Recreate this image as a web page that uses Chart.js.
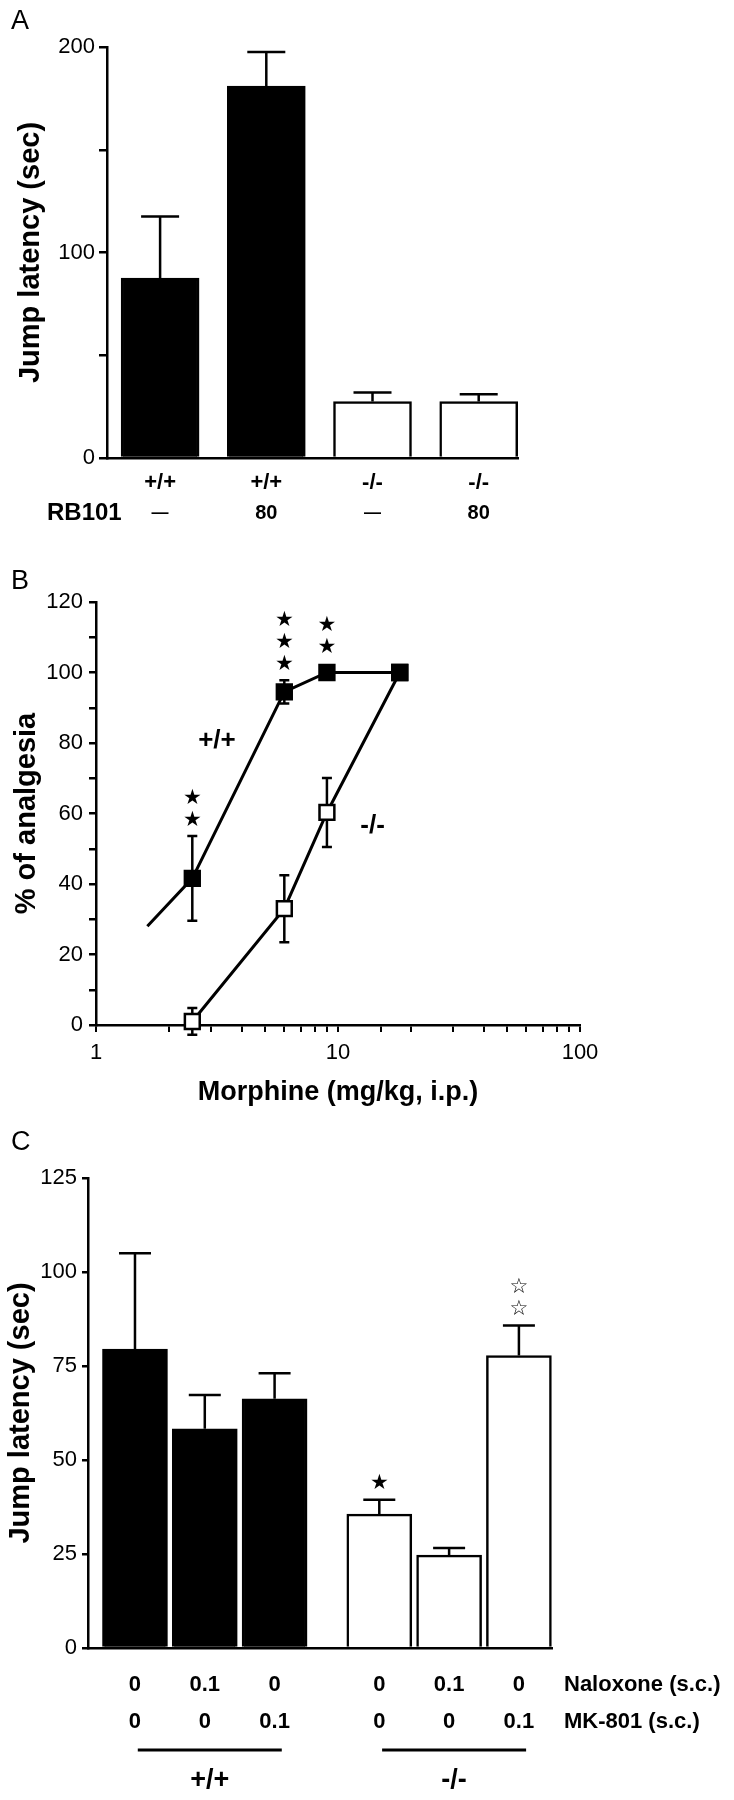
<!DOCTYPE html>
<html>
<head>
<meta charset="utf-8">
<script src="https://cdn.jsdelivr.net/npm/chart.js@4.4.1/dist/chart.umd.min.js"></script>
<style>
  html, body { margin: 0; padding: 0; background: #fff; }
  #fig { position: relative; width: 734px; height: 1800px; }
  .painel { position: absolute; left: 0; width: 734px; }
  #pa { top: 0; height: 530px; }
  #pb { top: 530px; height: 580px; }
  #pc { top: 1110px; height: 690px; }
</style>
</head>
<body>
<div id="fig">
  <div class="painel" id="pa"><canvas id="grafA"></canvas></div>
  <div class="painel" id="pb"><canvas id="grafB"></canvas></div>
  <div class="painel" id="pc"><canvas id="grafC"></canvas></div>
</div>
<script>
// Painel A - latência de salto com RB101
const genA = ['+/+', '+/+', '-/-', '-/-'];
const rbA = ['—', '80', '—', '80'];
const valsA = [87.5, 181, 27.5, 27.5];
const errA = [30, 16.6, 4.4, 3.5];

// Painel B - curva dose-resposta da morfina
const doseWT = [1.63, 2.5, 6, 9, 18];   // 1º ponto = início da reta, sem marcador
const analgWT = [28, 41.6, 94.5, 100, 100];
const errWT = [0, 12, 3.3, 0, 0];
const estrelasWT = [0, 2, 3, 2, 0];
const doseKO = [2.5, 6, 9, 18];
const analgKO = [1, 33, 60.3, 100];
const errKO = [3.8, 9.5, 9.8, 0];

// Painel C - naloxona / MK-801
const genC = ['+/+', '+/+', '+/+', '-/-', '-/-', '-/-'];
const naloxC = ['0', '0.1', '0', '0', '0.1', '0'];
const mkC = ['0', '0', '0.1', '0', '0', '0.1'];
const valsC = [79.5, 58.3, 66.3, 35.6, 24.7, 77.8];
const errC = [25.5, 9, 6.8, 3.8, 1.9, 8];
const estrelasC = [0, 0, 0, 1, 0, 2];
const glifoC = ['', '', '', '★', '', '☆'];

// posição das barras de C no eixo (grupo de 3 + intervalo)
const slotC = [0, 1, 2, 3.5, 4.5, 5.5];

const fonte = "'Liberation Sans', Arial, Helvetica, sans-serif";
const fonteEstrela = "'DejaVu Sans', sans-serif";
Chart.defaults.font.family = fonte;
Chart.defaults.color = '#000';

const corGen = g => g === '+/+' ? '#000' : '#fff';

function eixoY(max, passo, rotulo, titulo, largura, tick, pad, padTitulo) {
  return {
    min: 0, max: max,
    ticks: { stepSize: passo, font: { size: 22 }, padding: pad,
      callback: v => (v % rotulo === 0 ? v : '') },
    grid: { drawOnChartArea: false, tickLength: tick, color: '#000', lineWidth: 2.5 },
    border: { color: '#000', width: 2.5 },
    title: { display: true, text: titulo, font: { size: 29, weight: 'bold' },
      padding: { top: padTitulo, bottom: 0 } },
    afterFit: s => { s.width = largura; }
  };
}

function estrelas(ctx, px, topo, n, glifo) {
  ctx.font = `21px ${fonteEstrela}`;
  ctx.textAlign = 'center';
  ctx.textBaseline = 'middle';
  for (let k = 0; k < n; k++) ctx.fillText(glifo, px, topo - 16 - k * 22);
}

function letra(ctx, txt, y) {
  ctx.font = `27px ${fonte}`;
  ctx.textAlign = 'left';
  ctx.textBaseline = 'middle';
  ctx.fillText(txt, 11, y);
}

// Barras de erro (só para cima) nos gráficos de barras
function erroBarras(vals, errs, pos, cap) {
  return {
    id: 'erroBarras',
    afterDatasetsDraw(chart) {
      const { ctx, scales: { x, y } } = chart;
      ctx.save();
      ctx.strokeStyle = '#000';
      ctx.lineWidth = 2.5;
      vals.forEach((v, i) => {
        const px = x.getPixelForValue(pos[i]);
        const base = y.getPixelForValue(v);
        const topo = y.getPixelForValue(v + errs[i]);
        ctx.beginPath();
        ctx.moveTo(px, base);
        ctx.lineTo(px, topo);
        ctx.moveTo(px - cap / 2, topo);
        ctx.lineTo(px + cap / 2, topo);
        ctx.stroke();
      });
      ctx.restore();
    }
  };
}

// ---------- Painel A ----------
new Chart(document.getElementById('grafA'), {
  type: 'bar',
  data: {
    datasets: [{
      data: valsA.map((v, i) => ({ x: i, y: v })),
      backgroundColor: genA.map(corGen),
      borderColor: '#000',
      borderWidth: 2.5,
      barThickness: 78
    }]
  },
  options: {
    animation: false,
    responsive: true,
    maintainAspectRatio: false,
    layout: { padding: { top: 47, right: 216, left: 0, bottom: 0 } },
    plugins: { legend: { display: false }, tooltip: { enabled: false } },
    scales: {
      x: {
        type: 'linear', min: -0.5, max: 3.37, offset: false,
        ticks: { display: false },
        grid: { display: false },
        border: { color: '#000', width: 2.5 },
        afterFit: s => { s.height = 72; }
      },
      y: eixoY(200, 50, 100, 'Jump latency (sec)', 107, 8, 4, 14)
    }
  },
  plugins: [erroBarras(valsA, errA, [0, 1, 2, 3], 38), {
    id: 'textosA',
    afterDraw(chart) {
      const { ctx, chartArea, scales: { x } } = chart;
      const y0 = chartArea.bottom;
      ctx.save();
      ctx.fillStyle = '#000';
      ctx.textAlign = 'center';
      ctx.textBaseline = 'middle';
      genA.forEach((g, i) => {
        const px = x.getPixelForValue(i);
        ctx.font = `bold 22px ${fonte}`;
        ctx.fillText(g, px, y0 + 25);
        ctx.font = rbA[i] === '—' ? `bold 17px ${fonte}` : `bold 20px ${fonte}`;
        ctx.fillText(rbA[i], px, y0 + 55);
      });
      ctx.font = `bold 24px ${fonte}`;
      ctx.textAlign = 'left';
      ctx.fillText('RB101', 47, y0 + 55);
      letra(ctx, 'A', 22);
      ctx.restore();
    }
  }]
});

// ---------- Painel B ----------
const meioQuad = 10.5 * Math.SQRT1_2 + 1.25;

new Chart(document.getElementById('grafB'), {
  type: 'line',
  data: {
    datasets: [{
      label: '+/+',
      data: doseWT.map((d, i) => ({ x: d, y: analgWT[i] })),
      borderColor: '#000',
      borderWidth: 3,
      pointStyle: 'rect',
      pointRadius: doseWT.map((d, i) => (i === 0 ? 0 : 10.5)),
      pointBackgroundColor: '#000',
      pointBorderColor: '#000',
      pointBorderWidth: 2.5,
      tension: 0,
      clip: false
    }, {
      label: '-/-',
      data: doseKO.map((d, i) => ({ x: d, y: analgKO[i] })),
      borderColor: '#000',
      borderWidth: 3,
      pointStyle: 'rect',
      pointRadius: 10.5,
      pointBackgroundColor: '#fff',
      pointBorderColor: '#000',
      pointBorderWidth: 2.5,
      tension: 0,
      clip: false
    }]
  },
  options: {
    animation: false,
    responsive: true,
    maintainAspectRatio: false,
    layout: { padding: { top: 72, right: 154, left: 0, bottom: 0 } },
    plugins: { legend: { display: false }, tooltip: { enabled: false } },
    scales: {
      x: {
        type: 'logarithmic', min: 1, max: 100,
        ticks: {
          autoSkip: false, maxRotation: 0, font: { size: 22 }, padding: 8,
          callback: v => {
            const l = Math.log10(v);
            return Math.abs(l - Math.round(l)) < 1e-9 ? String(Math.round(v)) : '';
          }
        },
        grid: { drawOnChartArea: false, tickLength: 7, color: '#000', lineWidth: 2 },
        border: { color: '#000', width: 2.5 },
        title: { display: true, text: 'Morphine (mg/kg, i.p.)',
          font: { size: 27, weight: 'bold' }, padding: { top: 0, bottom: 1 } },
        afterFit: s => { s.height = 85; }
      },
      y: eixoY(120, 10, 20, '% of analgesia', 96, 7, 6, 10)
    }
  },
  plugins: [{
    id: 'erroLinhas',
    beforeDatasetsDraw(chart) {
      const { ctx, scales: { x, y } } = chart;
      ctx.save();
      ctx.strokeStyle = '#000';
      ctx.lineWidth = 2.5;
      [[doseWT, analgWT, errWT], [doseKO, analgKO, errKO]].forEach(([ds, vs, es]) => {
        ds.forEach((d, i) => {
          if (!es[i]) return;
          const px = x.getPixelForValue(d);
          const a = y.getPixelForValue(vs[i] + es[i]);
          const b = y.getPixelForValue(vs[i] - es[i]);
          ctx.beginPath();
          ctx.moveTo(px, a); ctx.lineTo(px, b);
          ctx.moveTo(px - 5, a); ctx.lineTo(px + 5, a);
          ctx.moveTo(px - 5, b); ctx.lineTo(px + 5, b);
          ctx.stroke();
        });
      });
      ctx.restore();
    },
    afterDatasetsDraw(chart) {
      const { ctx, scales: { x, y } } = chart;
      ctx.save();
      ctx.fillStyle = '#000';
      doseWT.forEach((d, i) => {
        if (!estrelasWT[i]) return;
        const topo = Math.min(y.getPixelForValue(analgWT[i] + errWT[i]),
          y.getPixelForValue(analgWT[i]) - meioQuad);
        estrelas(ctx, x.getPixelForValue(d), topo, estrelasWT[i], '★');
      });
      ctx.font = `bold 26px ${fonte}`;
      ctx.textAlign = 'center';
      ctx.textBaseline = 'middle';
      ctx.fillText('+/+', x.getPixelForValue(3.16), y.getPixelForValue(80.6));
      ctx.fillText('-/-', x.getPixelForValue(13.9), y.getPixelForValue(56.6));
      letra(ctx, 'B', 52);
      ctx.restore();
    }
  }]
});

// ---------- Painel C ----------
new Chart(document.getElementById('grafC'), {
  type: 'bar',
  data: {
    datasets: [{
      data: valsC.map((v, i) => ({ x: slotC[i], y: v })),
      backgroundColor: genC.map(corGen),
      borderColor: '#000',
      borderWidth: 2.5,
      barThickness: 65
    }]
  },
  options: {
    animation: false,
    responsive: true,
    maintainAspectRatio: false,
    layout: { padding: { top: 68, right: 182, left: 0, bottom: 0 } },
    plugins: { legend: { display: false }, tooltip: { enabled: false } },
    scales: {
      x: {
        type: 'linear', min: -0.673, max: 5.974, offset: false,
        ticks: { display: false },
        grid: { display: false },
        border: { color: '#000', width: 2.5 },
        afterFit: s => { s.height = 152; }
      },
      y: eixoY(125, 25, 25, 'Jump latency (sec)', 88, 6, 5, 4)
    }
  },
  plugins: [erroBarras(valsC, errC, slotC, 32), {
    id: 'textosC',
    afterDraw(chart) {
      const { ctx, chartArea, scales: { x, y } } = chart;
      const y0 = chartArea.bottom;
      ctx.save();
      ctx.fillStyle = '#000';
      valsC.forEach((v, i) => {
        if (estrelasC[i]) {
          estrelas(ctx, x.getPixelForValue(slotC[i]), y.getPixelForValue(v + errC[i]),
            estrelasC[i], glifoC[i]);
        }
      });
      ctx.font = `bold 22px ${fonte}`;
      ctx.textAlign = 'center';
      ctx.textBaseline = 'middle';
      slotC.forEach((s, i) => {
        const px = x.getPixelForValue(s);
        ctx.fillText(naloxC[i], px, y0 + 37);
        ctx.fillText(mkC[i], px, y0 + 74);
      });
      ctx.textAlign = 'left';
      ctx.fillText('Naloxone (s.c.)', 564, y0 + 37);
      ctx.fillText('MK-801 (s.c.)', 564, y0 + 74);
      // traços e rótulos dos grupos
      ctx.strokeStyle = '#000';
      ctx.lineWidth = 3;
      [['+/+', slotC[1]], ['-/-', slotC[4]]].forEach(([g, s]) => {
        const px = x.getPixelForValue(s) + 5;
        ctx.beginPath();
        ctx.moveTo(px - 72, y0 + 102);
        ctx.lineTo(px + 72, y0 + 102);
        ctx.stroke();
        ctx.font = `bold 27px ${fonte}`;
        ctx.textAlign = 'center';
        ctx.fillText(g, px, y0 + 133);
      });
      letra(ctx, 'C', 33);
      ctx.restore();
    }
  }]
});
</script>
</body>
</html>
